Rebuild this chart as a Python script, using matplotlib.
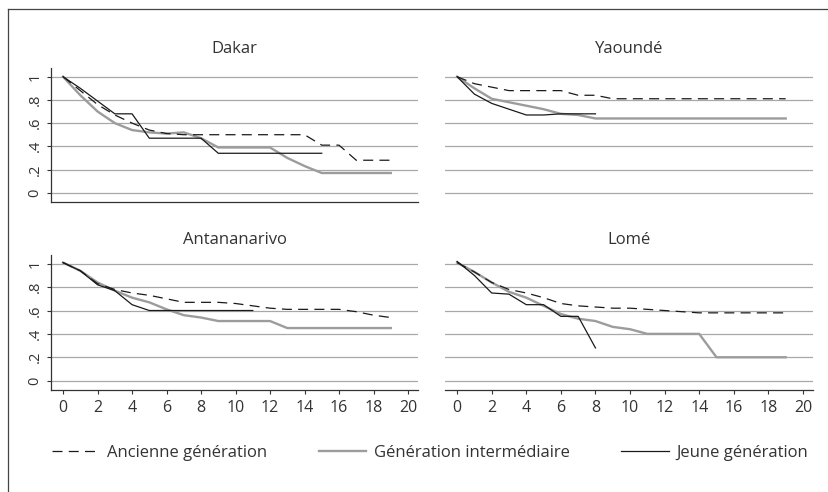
import numpy as np
import matplotlib
matplotlib.use('Agg')
import matplotlib.pyplot as plt
from matplotlib.lines import Line2D

# Data (proportion still in the state, by year)
cities = ['Dakar', 'Yaoundé', 'Antananarivo', 'Lomé']

dakar_anc = [1, .88, .76, .67, .60, .54, .51, .50, .50, .50, .50, .50, .50, .50, .50, .41, .41, .28, .28, .28]
dakar_int = [1, .84, .70, .60, .54, .52, .51, .52, .47, .39, .39, .39, .39, .30, .23, .17, .17, .17, .17, .17]
dakar_jeu = [1, .90, .79, .68, .68, .47, .47, .47, .47, .34, .34, .34, .34, .34, .34, .34]

yaounde_anc = [1, .94, .91, .88, .88, .88, .88, .84, .84, .81, .81, .81, .81, .81, .81, .81, .81, .81, .81, .81]
yaounde_int = [1, .90, .81, .78, .75, .72, .68, .67, .64, .64, .64, .64, .64, .64, .64, .64, .64, .64, .64, .64]
yaounde_jeu = [1, .85, .77, .72, .67, .67, .68, .68, .68]

antan_anc = [1.01, .94, .83, .78, .75, .73, .70, .67, .67, .67, .66, .64, .62, .61, .61, .61, .61, .59, .56, .54]
antan_int = [1.01, .94, .84, .77, .71, .67, .61, .56, .54, .51, .51, .51, .51, .45, .45, .45, .45, .45, .45, .45]
antan_jeu = [1.01, .94, .82, .77, .65, .60, .60, .60, .60, .60, .60, .60]

lome_anc = [1.01, .93, .84, .78, .75, .71, .66, .64, .63, .62, .62, .61, .60, .59, .58, .58, .58, .58, .58, .58]
lome_int = [1.01, .93, .84, .76, .71, .64, .57, .53, .51, .46, .44, .40, .40, .40, .40, .20, .20, .20, .20, .20]
lome_jeu = [1.02, .90, .75, .74, .65, .65, .55, .55, .28]

series = {
    'Dakar': (dakar_anc, dakar_int, dakar_jeu),
    'Yaoundé': (yaounde_anc, yaounde_int, yaounde_jeu),
    'Antananarivo': (antan_anc, antan_int, antan_jeu),
    'Lomé': (lome_anc, lome_int, lome_jeu),
}

labels = ['Ancienne génération', 'Génération intermédiaire', 'Jeune génération']
yticks = [0, .2, .4, .6, .8, 1]
yticklabels = ['0', '.2', '.4', '.6', '.8', '1']
xticks = list(range(0, 21, 2))

plt.rcParams['font.family'] = ['Open Sans', 'DejaVu Sans']
TXT = '#333333'
GRID = '#a8a8a8'
GRAY = '#9c9c9c'
DARK = '#1a1a1a'

W, H = 829, 492
fig = plt.figure(figsize=(W / 100, H / 100), dpi=100)


def px_axes(x0, y0, x1, y1):
    return fig.add_axes([x0 / W, 1 - y1 / H, (x1 - x0) / W, (y1 - y0) / H])


boxes = {
    'Dakar': (51, 68, 418, 202),
    'Yaoundé': (445, 68, 813, 202),
    'Antananarivo': (51, 255, 418, 390),
    'Lomé': (445, 255, 813, 390),
}

for name in cities:
    ax = px_axes(*boxes[name])
    anc, inter, jeu = series[name]
    ax.plot(np.arange(len(inter)), inter, color=GRAY, lw=1.7, zorder=3)
    ax.plot(np.arange(len(anc)), anc, color=DARK, lw=0.9, dashes=(8, 5), zorder=4)
    ax.plot(np.arange(len(jeu)), jeu, color=DARK, lw=0.9, zorder=5)

    ax.set_xlim(-0.7, 20.58)
    ax.set_ylim(-0.08, 1.075)
    ax.set_yticks(yticks)
    ax.set_xticks(xticks)
    ax.yaxis.grid(True, color=GRID, lw=0.9)
    ax.set_axisbelow(True)
    for s in ['top', 'right']:
        ax.spines[s].set_visible(False)
    for s in ['left', 'bottom']:
        ax.spines[s].set_color('#333333')
        ax.spines[s].set_linewidth(0.9)

    left_col = name in ('Dakar', 'Antananarivo')
    bottom_row = name in ('Antananarivo', 'Lomé')

    if left_col:
        ax.set_yticklabels(yticklabels)
        ax.tick_params(axis='y', length=3, width=0.8, color='#333333', pad=3,
                       labelsize=10.5, labelcolor=TXT, rotation=90)
        for t in ax.get_yticklabels():
            t.set_va('center')
    else:
        ax.spines['left'].set_visible(False)
        ax.tick_params(axis='y', left=False, labelleft=False)

    if bottom_row:
        ax.tick_params(axis='x', length=3, width=0.8, color='#333333', pad=4,
                       labelsize=11.5, labelcolor=TXT)
    else:
        ax.tick_params(axis='x', bottom=False, labelbottom=False)
        if name == 'Yaoundé':
            ax.spines['bottom'].set_visible(False)

    ax.set_title(name, fontsize=12, color=TXT, pad=11 if not bottom_row else 8)

# legend
handles = [
    Line2D([], [], color=DARK, lw=0.9, dashes=(8, 5)),
    Line2D([], [], color=GRAY, lw=1.7),
    Line2D([], [], color=DARK, lw=0.9),
]
fig.legend(handles, labels, loc='center left', bbox_to_anchor=(52 / W, 1 - 453 / H),
           ncol=3, frameon=False, fontsize=12, handlelength=2.85, handletextpad=0.45,
           columnspacing=3.1, borderpad=0, borderaxespad=0, labelcolor=TXT)

# outer frame (left and top edges visible)
fig.add_artist(Line2D([8 / W, 8 / W], [0, 1 - 9 / H], transform=fig.transFigure,
                      color='#444444', lw=0.9))
fig.add_artist(Line2D([8 / W, 1], [1 - 9 / H, 1 - 9 / H], transform=fig.transFigure,
                      color='#444444', lw=0.9))

fig.savefig('out.png', dpi=100, facecolor='white')
